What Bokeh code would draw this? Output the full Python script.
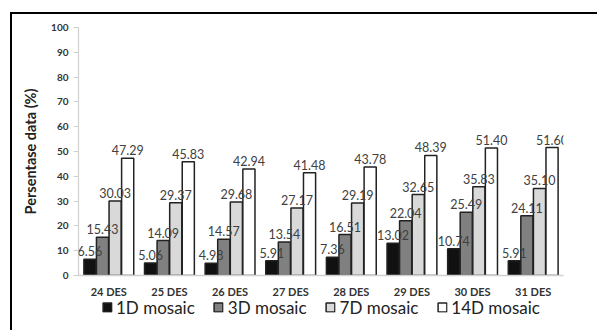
from bokeh.plotting import figure
from bokeh.layouts import column
from bokeh.models import FactorRange, ColumnDataSource, Legend, LegendItem, LabelSet
from bokeh.core.properties import value
from bokeh.transform import dodge
from bokeh.embed import file_html
from bokeh.resources import INLINE

categories = ["24 DES", "25 DES", "26 DES", "27 DES", "28 DES", "29 DES", "30 DES", "31 DES"]
series_names = ["1D mosaic", "3D mosaic", "7D mosaic", "14D mosaic"]
d1 = [6.56, 5.06, 4.98, 5.91, 7.36, 13.02, 10.74, 5.91]
d3 = [15.43, 14.09, 14.57, 13.54, 16.51, 22.04, 25.49, 24.11]
d7 = [30.03, 29.37, 29.68, 27.17, 29.19, 32.65, 35.83, 35.10]
d14 = [47.29, 45.83, 42.94, 41.48, 43.78, 48.39, 51.40, 51.60]
y_ticks = [0, 10, 20, 30, 40, 50, 60, 70, 80, 90, 100]

FONT = "Lato"
colors = ["#111111", "#808080", "#d9d9d9", "#ffffff"]
offsets = [-0.311, -0.104, 0.104, 0.311]

src = ColumnDataSource(dict(cat=categories, d1=d1, d3=d3, d7=d7, d14=d14,
                            l1=["%.2f" % v for v in d1], l3=["%.2f" % v for v in d3],
                            l7=["%.2f" % v for v in d7], l14=["%.2f" % v for v in d14]))

p = figure(x_range=FactorRange(*categories, range_padding=0), y_range=(0, 100),
           width=587, height=286, output_backend="svg", toolbar_location=None,
           min_border_left=66, min_border_top=13, min_border_right=1, min_border_bottom=23)
p.margin = (12, 0, 0, 10)
p.styles = {"border-left": "2px solid #000", "border-top": "2px solid #000"}
p.outline_line_color = None
p.xgrid.grid_line_color = None
p.ygrid.grid_line_color = None

keys = ["d1", "d3", "d7", "d14"]
lkeys = ["l1", "l3", "l7", "l14"]
for k, lk, c, off in zip(keys, lkeys, colors, offsets):
    p.vbar(x=dodge("cat", off, range=p.x_range), top=k, width=0.2, source=src,
           fill_color=c, line_color="#222222", line_width=1.5)
    lab = LabelSet(x=dodge("cat", off, range=p.x_range), y=k, text=lk, source=src,
                   text_align="center", text_baseline="bottom", y_offset=3,
                   text_font=value(FONT), text_font_size="12.5px", text_color="#404040")
    p.add_layout(lab)

p.yaxis.ticker = y_ticks
p.yaxis.axis_line_color = "#d0d0d0"
p.yaxis.axis_line_width = 1.2
p.yaxis.major_tick_line_color = "#d0d0d0"
p.yaxis.major_tick_out = 5
p.yaxis.major_tick_in = 0
p.yaxis.minor_tick_line_color = None
p.yaxis.major_label_text_font = FONT
p.yaxis.major_label_text_font_style = "bold"
p.yaxis.major_label_text_font_size = "10px"
p.yaxis.major_label_text_color = "#333333"
p.yaxis.axis_label = "Persentase data (%)"
p.yaxis.axis_label_text_font = FONT
p.yaxis.axis_label_text_font_style = "bold"
p.yaxis.axis_label_text_font_size = "14.5px"
p.yaxis.axis_label_text_color = "#222222"
p.yaxis.axis_label_standoff = 9

p.xaxis.axis_line_color = "#d0d0d0"
p.xaxis.axis_line_width = 1.5
p.xaxis.major_tick_line_color = None
p.xaxis.major_tick_out = 0
p.xaxis.major_tick_in = 0
p.xaxis.minor_tick_line_color = None
p.xaxis.major_label_standoff = 9
p.xaxis.major_label_text_font = FONT
p.xaxis.major_label_text_font_style = "bold"
p.xaxis.major_label_text_font_size = "11px"
p.xaxis.major_label_text_color = "#333333"

# legend strip below the chart (hidden copies of the series supply the legend swatches)
q = figure(x_range=FactorRange(*categories), width=587, height=32, output_backend="svg",
           toolbar_location=None, x_axis_location=None, y_axis_location=None,
           min_border_left=0, min_border_right=36, min_border_top=0, min_border_bottom=14)
q.margin = (0, 0, 0, 10)
q.styles = {"border-left": "2px solid #000"}
q.outline_line_color = None
q.xgrid.grid_line_color = None
q.ygrid.grid_line_color = None
items = []
for k, c, name in zip(keys, colors, series_names):
    r = q.vbar(x="cat", top=k, width=0.2, source=src, fill_color=c,
               line_color="#222222", line_width=1.5, visible=False)
    items.append(LegendItem(label=name, renderers=[r]))
legend = Legend(items=items, orientation="horizontal", location="center",
                label_text_font=FONT, label_text_font_size="17px", label_text_color="#222222",
                glyph_width=11, glyph_height=11, spacing=18, label_standoff=4,
                border_line_color=None, background_fill_alpha=0, margin=0, padding=0)
q.add_layout(legend, "center")

layout = column(p, q, spacing=0)
open("out.html", "w").write(file_html(layout, INLINE))
